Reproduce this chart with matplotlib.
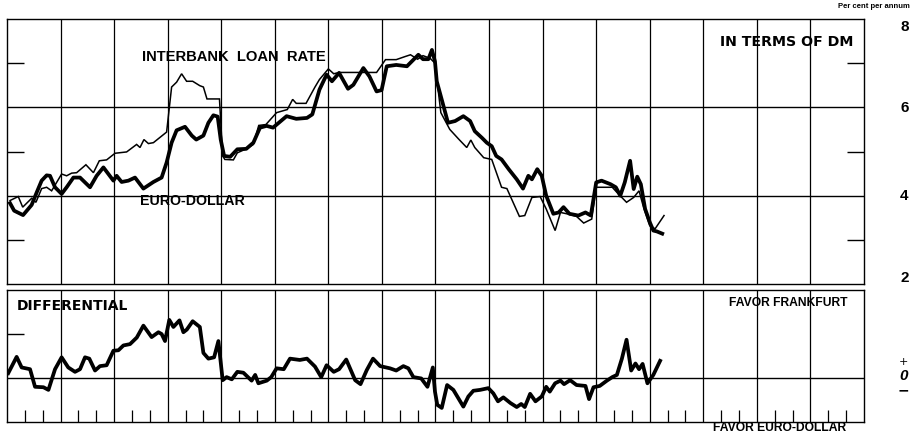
import matplotlib
matplotlib.use("Agg")
import matplotlib.pyplot as plt
import numpy as np

# months from start of chart (16 quarters = 48 months)
ib_month = [0.17, 0.63, 0.88, 1.38, 1.62, 1.94, 2.22, 2.5, 2.78, 3.06, 3.34, 3.62, 3.9, 4.42, 4.84,
            5.17, 5.58, 6.05, 6.7, 7.26, 7.45, 7.67, 7.92, 8.2, 8.94, 9.22, 9.5, 9.78, 10.06, 10.4,
            10.8, 11.0, 11.2, 11.9, 12.08, 12.2, 12.68, 12.9, 13.4, 13.8, 14.1, 14.5, 15.1, 15.7,
            16.0, 16.2, 16.75, 17.25, 17.5, 18.0, 18.3, 18.6, 20.7, 21.2, 21.8, 22.3, 22.6, 23.0,
            23.3, 23.7, 23.97, 24.3, 24.8, 25.3, 25.75, 25.98, 26.2, 26.7, 27.15, 27.7, 28.0, 28.7,
            29.0, 29.4, 29.86, 30.2, 30.7, 31.0, 31.35, 31.9, 32.3, 32.75, 33.0, 33.9, 34.24, 34.7,
            35.1, 35.4, 35.65, 36.0, 36.3, 36.8]
ib_rate = [3.89, 3.98, 3.74, 3.94, 3.85, 4.16, 4.19, 4.11, 4.30, 4.49, 4.45, 4.51, 4.52, 4.70, 4.52,
           4.79, 4.81, 4.96, 4.99, 5.16, 5.09, 5.27, 5.18, 5.20, 5.44, 6.46, 6.57, 6.76, 6.59, 6.59,
           6.49, 6.46, 6.19, 6.19, 4.90, 4.82, 4.81, 4.97, 5.06, 5.16, 5.59, 5.61, 5.88, 5.95,
           6.18, 6.09, 6.09, 6.46, 6.63, 6.87, 6.76, 6.79, 6.79, 7.08, 7.08, 7.15, 7.19, 7.09,
           7.17, 7.11, 7.00, 5.88, 5.50, 5.28, 5.09, 5.26, 5.09, 4.86, 4.82, 4.19, 4.16, 3.53,
           3.55, 3.96, 3.98, 3.70, 3.21, 3.62, 3.59, 3.53, 3.38, 3.47, 4.19, 4.19, 4.04, 3.85,
           3.96, 4.11, 3.74, 3.32, 3.25, 3.55]

ed_month = [0.17, 0.4, 0.9, 1.38, 1.66, 1.94, 2.22, 2.41, 2.69, 3.06, 3.34, 3.72, 4.09, 4.65, 5.02,
            5.4, 5.96, 6.14, 6.42, 6.8, 7.17, 7.64, 8.2, 8.66, 8.94, 9.22, 9.5, 9.97, 10.35, 10.6,
            11.0, 11.28, 11.56, 11.8, 11.97, 12.16, 12.5, 12.9, 13.4, 13.8, 14.17, 14.54, 14.9,
            15.66, 16.2, 16.8, 17.1, 17.5, 17.9, 18.2, 18.6, 19.1, 19.4, 19.96, 20.3, 20.7, 20.98,
            21.27, 21.8, 22.4, 23.04, 23.3, 23.6, 23.8, 23.97, 24.07, 24.4, 24.7, 25.1, 25.56,
            25.94, 26.2, 26.6, 26.87, 27.15, 27.4, 27.7, 28.1, 28.55, 28.9, 29.2, 29.4, 29.7,
            29.95, 30.2, 30.6, 30.9, 31.17, 31.5, 32.0, 32.4, 32.7, 33.0, 33.3, 33.8, 34.1, 34.35,
            34.6, 34.9, 35.1, 35.3, 35.5, 35.74, 36.0, 36.2, 36.4, 36.7]
ed_rate = [3.83, 3.66, 3.56, 3.79, 4.07, 4.34, 4.46, 4.45, 4.19, 4.04, 4.19, 4.41, 4.41, 4.19, 4.45,
           4.64, 4.34, 4.45, 4.31, 4.34, 4.41, 4.16, 4.31, 4.41, 4.75, 5.20, 5.48, 5.56, 5.36, 5.27,
           5.36, 5.65, 5.82, 5.79, 5.27, 4.90, 4.88, 5.05, 5.06, 5.20, 5.54, 5.58, 5.54,
           5.80, 5.74, 5.76, 5.84, 6.40, 6.74, 6.59, 6.78, 6.42, 6.51, 6.89, 6.70, 6.36, 6.39,
           6.93, 6.96, 6.93, 7.19, 7.09, 7.09, 7.30, 7.04, 6.59, 6.10, 5.65, 5.69, 5.80,
           5.69, 5.46, 5.31, 5.20, 5.12, 4.90, 4.82, 4.60, 4.37, 4.16, 4.45, 4.37, 4.60,
           4.45, 4.00, 3.59, 3.62, 3.74, 3.59, 3.55, 3.62, 3.55, 4.30, 4.34, 4.26, 4.19, 4.00,
           4.30, 4.79, 4.15, 4.43, 4.26, 3.70, 3.40, 3.21, 3.19, 3.14]

diff_month = [0.07, 0.54, 0.82, 1.29, 1.57, 2.04, 2.32, 2.69, 3.06, 3.43, 3.81, 4.09, 4.37, 4.61,
              4.93, 5.21, 5.58, 5.96, 6.24, 6.52, 6.89, 7.27, 7.64, 8.1, 8.48, 8.66, 8.85, 9.09,
              9.32, 9.66, 9.88, 10.07, 10.4, 10.8, 11.0, 11.28, 11.6, 11.84, 12.08, 12.3, 12.59,
              12.9, 13.24, 13.7, 13.9, 14.08, 14.55, 14.8, 15.1, 15.5, 15.85, 16.4, 16.8, 17.25,
              17.6, 17.9, 18.3, 18.6, 19.0, 19.5, 19.8, 20.15, 20.5, 20.9, 21.45, 21.8, 22.2,
              22.48, 22.76, 23.2, 23.55, 23.85, 23.97, 24.1, 24.35, 24.65, 25.0, 25.56, 25.84,
              26.12, 26.5, 26.96, 27.24, 27.5, 27.8, 28.2, 28.55, 28.8, 29.0, 29.3, 29.6, 29.95,
              30.2, 30.4, 30.7, 31.0, 31.2, 31.54, 31.9, 32.4, 32.6, 32.85, 33.2, 33.6, 33.9,
              34.16, 34.44, 34.7, 34.96, 35.2, 35.4, 35.6, 35.87, 36.2, 36.58]
diff_val = [0.11, 0.48, 0.24, 0.20, -0.20, -0.21, -0.27, 0.20, 0.47, 0.24, 0.14, 0.20, 0.47, 0.44,
            0.17, 0.27, 0.29, 0.62, 0.63, 0.74, 0.77, 0.92, 1.19, 0.93, 1.04, 1.00, 0.84, 1.32,
            1.16, 1.31, 1.04, 1.10, 1.29, 1.16, 0.57, 0.44, 0.47, 0.84, -0.05, 0.02, -0.03,
            0.14, 0.12, -0.06, 0.07, -0.12, -0.06, 0.02, 0.22, 0.20, 0.44, 0.41, 0.44, 0.26,
            0.02, 0.29, 0.14, 0.20, 0.42, -0.05, -0.14, 0.18, 0.44, 0.27, 0.22, 0.17, 0.27,
            0.22, 0.02, -0.01, -0.20, 0.24, -0.31, -0.61, -0.68, -0.16, -0.27, -0.65, -0.42,
            -0.29, -0.27, -0.23, -0.35, -0.53, -0.44, -0.57, -0.66, -0.59, -0.66, -0.36, -0.53, -0.42,
            -0.20, -0.31, -0.12, -0.06, -0.14, -0.05, -0.16, -0.18, -0.48, -0.21, -0.18, -0.06, 0.02,
            0.07, 0.44, 0.87, 0.17, 0.33, 0.20, 0.32, -0.12, 0.07, 0.39]

right_labels = ["8", "6", "4", "2"]
right_label_pos = [7.83, 5.98, 4.0, 2.14]

bold = ["Liberation Sans", "DejaVu Sans"]
wide = ["DejaVu Sans"]

fig = plt.figure(figsize=(9.12, 4.36), dpi=100)
ax = fig.add_axes([7/912, 1-284/436, 857/912, 265/436])
ax2 = fig.add_axes([7/912, 1-422/436, 857/912, 132/436])

quarters = np.arange(3, 48, 3)
months = [m for m in range(1, 48) if m % 3 != 0]

# top panel
ax.plot(ib_month, ib_rate, color="black", lw=1.1, solid_joinstyle="miter")
ax.plot(ed_month, ed_rate, color="black", lw=2.7, solid_joinstyle="round")
ax.set_xlim(0, 48)
ax.set_ylim(2, 8)
for q in quarters:
    ax.axvline(q, color="black", lw=0.9)
for h in [4, 6]:
    ax.axhline(h, color="black", lw=1.0)
ax.set_xticks([])
ax.set_yticks([3, 5, 7])
ax.tick_params(axis="y", direction="in", length=12, width=1, left=True, right=True,
               labelleft=False, labelright=False)
for s in ax.spines.values():
    s.set_linewidth(1.0)

ax.text(0.157, 0.855, "INTERBANK  LOAN  RATE", transform=ax.transAxes, family=bold,
        weight="bold", fontsize=10.6, va="center", ha="left")
ax.text(0.155, 0.315, "EURO-DOLLAR", transform=ax.transAxes, family=bold,
        weight="bold", fontsize=10.2, va="center", ha="left")
ax.text(0.988, 0.915, "IN TERMS OF DM", transform=ax.transAxes, family=wide,
        weight="bold", fontsize=10.2, va="center", ha="right")
for lab, pos in zip(right_labels, right_label_pos):
    ax.text(1.047, pos, lab, transform=ax.get_yaxis_transform(), family=bold, weight="bold",
            fontsize=11, va="center", ha="center")
fig.text(0.998, 0.985, "Per cent per annum", family=bold, weight="bold", fontsize=5.5,
         ha="right", va="center")

# bottom panel
ax2.plot(diff_month, diff_val, color="black", lw=2.7, solid_joinstyle="round")
ax2.set_xlim(0, 48)
ax2.set_ylim(-1, 2)
for q in quarters:
    ax2.axvline(q, color="black", lw=0.9)
ax2.axhline(0, color="black", lw=1.0)
ax2.set_yticks([1])
ax2.tick_params(axis="y", direction="in", length=12, width=1, left=True, right=False,
                labelleft=False)
ax2.set_xticks(months)
ax2.tick_params(axis="x", direction="in", length=9, width=0.9, labelbottom=False)
for s in ax2.spines.values():
    s.set_linewidth(1.0)

ax2.text(0.011, 0.88, "DIFFERENTIAL", transform=ax2.transAxes, family=wide,
         weight="bold", fontsize=10, va="center", ha="left")
ax2.text(0.981, 0.9, "FAVOR FRANKFURT", transform=ax2.transAxes, family=bold,
         weight="bold", fontsize=8.7, va="center", ha="right")
fig.text(0.928, 1-428/436, "FAVOR EURO-DOLLAR", family=bold, weight="bold", fontsize=8.7,
         ha="right", va="center")
ax2.text(1.046, 0.37, "+", transform=ax2.get_yaxis_transform(), fontsize=8, ha="center", va="center")
ax2.text(1.046, 0.05, "0", transform=ax2.get_yaxis_transform(), family=bold, weight="bold",
         fontsize=11, style="italic", ha="center", va="center")
ax2.text(1.046, -0.28, "\u2212", transform=ax2.get_yaxis_transform(), fontsize=10,
         weight="bold", ha="center", va="center")

fig.savefig("out.png", dpi=100)
